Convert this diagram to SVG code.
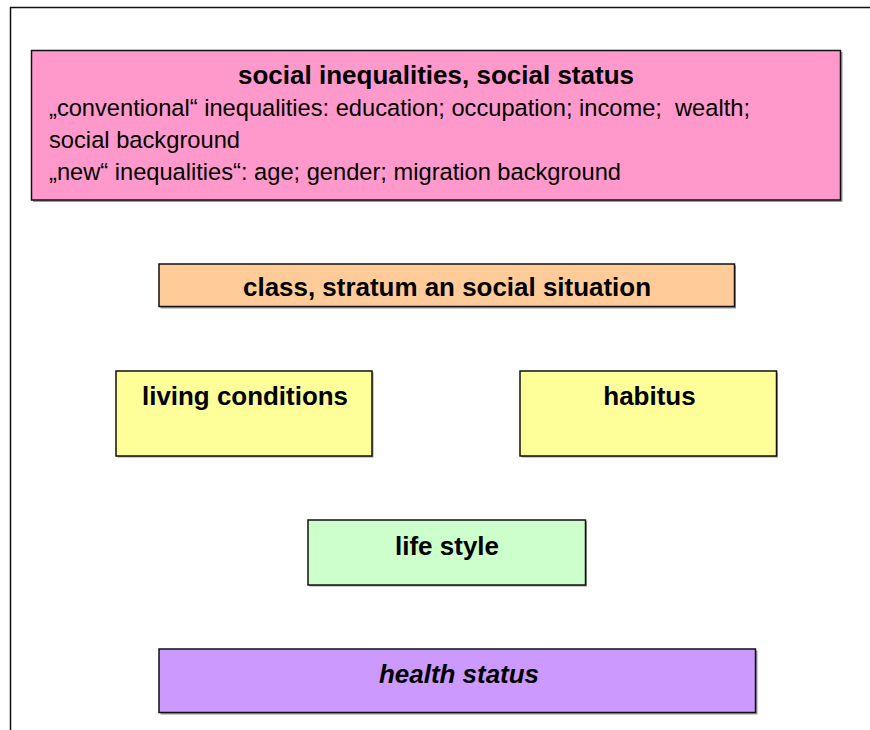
<svg xmlns="http://www.w3.org/2000/svg" width="870" height="730" viewBox="0 0 870 730">
<style>
.box{stroke:#111;stroke-width:1.5}
.sh{fill:#9a9a9a}
.b{font-family:"Liberation Sans",Arial,sans-serif;font-weight:bold;font-size:26px;fill:#000}
.r{font-family:"Liberation Sans",Arial,sans-serif;font-size:23.7px;fill:#000;white-space:pre}
</style>
<rect width="870" height="730" fill="#fff"/>
<path d="M10.5 730 V7.5 H870" fill="none" stroke="#111" stroke-width="1.5"/>
<g id="connectors"/>
<g id="social-inequalities">
<rect class="sh" x="33" y="52" width="809.5" height="150"/>
<rect class="box" x="31.5" y="50.5" width="809" height="149.5" fill="#FF99CC"/>
<text class="b" x="436" y="84" text-anchor="middle" textLength="396" lengthAdjust="spacingAndGlyphs">social inequalities, social status</text>
<text class="r" x="49" y="116" textLength="701" lengthAdjust="spacingAndGlyphs">„conventional“ inequalities: education; occupation; income;  wealth;</text>
<text class="r" x="49" y="148" textLength="191" lengthAdjust="spacingAndGlyphs">social background</text>
<text class="r" x="49" y="180" textLength="572" lengthAdjust="spacingAndGlyphs">„new“ inequalities“: age; gender; migration background</text>
</g>
<g id="class-stratum">
<rect class="sh" x="160.5" y="265.5" width="575.5" height="43"/>
<rect class="box" x="159" y="264" width="575.5" height="42.5" fill="#FFCC99"/>
<text class="b" x="447" y="296" text-anchor="middle" textLength="408" lengthAdjust="spacingAndGlyphs">class, stratum an social situation</text>
</g>
<g id="living-conditions">
<rect class="sh" x="117.5" y="372.5" width="256" height="85"/>
<rect class="box" x="116" y="371" width="256" height="85" fill="#FFFF99"/>
<text class="b" x="245" y="405" text-anchor="middle" textLength="206" lengthAdjust="spacingAndGlyphs">living conditions</text>
</g>
<g id="habitus">
<rect class="sh" x="521.5" y="372.5" width="256.5" height="85"/>
<rect class="box" x="520" y="371" width="256.5" height="85" fill="#FFFF99"/>
<text class="b" x="649.5" y="405" text-anchor="middle">habitus</text>
</g>
<g id="life-style">
<rect class="sh" x="309.5" y="521.5" width="277.5" height="65"/>
<rect class="box" x="308" y="520" width="277.5" height="65" fill="#CCFFCC"/>
<text class="b" x="447" y="555" text-anchor="middle">life style</text>
</g>
<g id="health-status">
<rect class="sh" x="160.5" y="650.5" width="597" height="64"/>
<rect class="box" x="159" y="649" width="596.5" height="63.5" fill="#CC99FF"/>
<text class="b" x="459" y="683" text-anchor="middle" font-style="italic" textLength="160" lengthAdjust="spacingAndGlyphs">health status</text>
</g>
</svg>
